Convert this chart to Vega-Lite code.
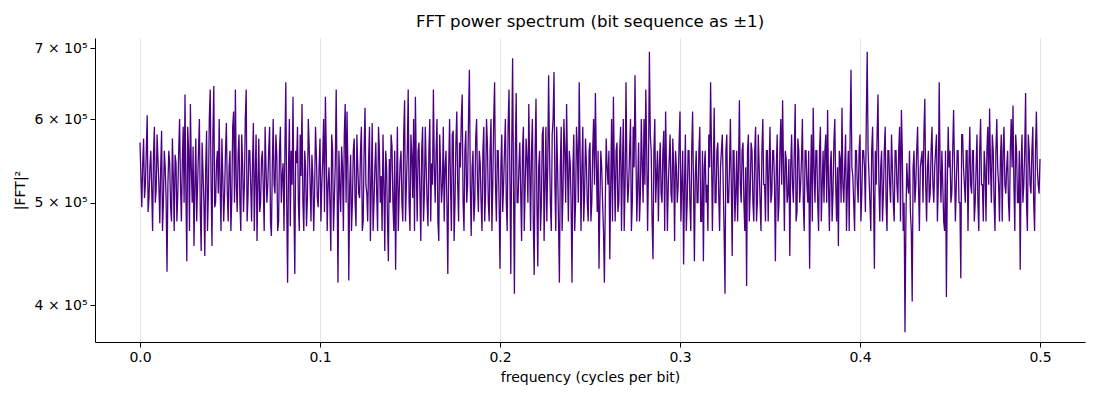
{
  "$schema": "https://vega.github.io/schema/vega-lite/v6.json",
  "width": 990,
  "height": 304,
  "autosize": {"type": "none"},
  "padding": {"left": 95, "top": 38, "right": 15, "bottom": 58},
  "title": {"text": "FFT power spectrum (bit sequence as ±1)", "fontSize": 16.6, "fontWeight": "normal", "color": "#000", "offset": 7},
  "config": {
    "font": "DejaVu Sans",
    "view": {"stroke": null},
    "axis": {"labelFont": "DejaVu Sans", "titleFont": "DejaVu Sans", "labelColor": "#000", "titleColor": "#000", "domainColor": "#000", "tickColor": "#000", "labelFontSize": 14, "titleFontSize": 14, "titleFontWeight": "normal", "tickSize": 5, "labelPadding": 3}
  },
  "data": {"values": [
    {"f":0.000,"p":570000},{"f":0.001,"p":495000},{"f":0.002,"p":575000},{"f":0.003,"p":520000},{"f":0.004,"p":605000},{"f":0.005,"p":505000},{"f":0.006,"p":560000},{"f":0.007,"p":470000},{"f":0.008,"p":590000},{"f":0.009,"p":515000},
    {"f":0.010,"p":548000},{"f":0.011,"p":478000},{"f":0.012,"p":585000},{"f":0.013,"p":500000},{"f":0.014,"p":540000},{"f":0.015,"p":430000},{"f":0.016,"p":560000},{"f":0.017,"p":495000},{"f":0.018,"p":575000},{"f":0.019,"p":470000},
    {"f":0.020,"p":545000},{"f":0.021,"p":510000},{"f":0.022,"p":600000},{"f":0.023,"p":480000},{"f":0.024,"p":590000},{"f":0.025,"p":633000},{"f":0.026,"p":440000},{"f":0.027,"p":560000},{"f":0.028,"p":620000},{"f":0.029,"p":500000},
    {"f":0.030,"p":455000},{"f":0.031,"p":575000},{"f":0.032,"p":520000},{"f":0.033,"p":600000},{"f":0.034,"p":450000},{"f":0.035,"p":535000},{"f":0.036,"p":445000},{"f":0.037,"p":585000},{"f":0.038,"p":510000},{"f":0.039,"p":640000},
    {"f":0.040,"p":455000},{"f":0.041,"p":645000},{"f":0.042,"p":500000},{"f":0.043,"p":560000},{"f":0.044,"p":600000},{"f":0.045,"p":470000},{"f":0.046,"p":530000},{"f":0.047,"p":510000},{"f":0.048,"p":595000},{"f":0.049,"p":480000},
    {"f":0.050,"p":560000},{"f":0.051,"p":505000},{"f":0.052,"p":610000},{"f":0.053,"p":640000},{"f":0.054,"p":490000},{"f":0.055,"p":580000},{"f":0.056,"p":470000},{"f":0.057,"p":545000},{"f":0.058,"p":520000},{"f":0.059,"p":640000},
    {"f":0.060,"p":505000},{"f":0.061,"p":560000},{"f":0.062,"p":480000},{"f":0.063,"p":595000},{"f":0.064,"p":530000},{"f":0.065,"p":460000},{"f":0.066,"p":575000},{"f":0.067,"p":500000},{"f":0.068,"p":560000},{"f":0.069,"p":470000},
    {"f":0.070,"p":540000},{"f":0.071,"p":520000},{"f":0.072,"p":590000},{"f":0.073,"p":465000},{"f":0.074,"p":600000},{"f":0.075,"p":510000},{"f":0.076,"p":555000},{"f":0.077,"p":480000},{"f":0.078,"p":590000},{"f":0.079,"p":530000},
    {"f":0.080,"p":470000},{"f":0.081,"p":650000},{"f":0.082,"p":420000},{"f":0.083,"p":600000},{"f":0.084,"p":560000},{"f":0.085,"p":630000},{"f":0.086,"p":428000},{"f":0.087,"p":545000},{"f":0.088,"p":500000},{"f":0.089,"p":580000},
    {"f":0.090,"p":620000},{"f":0.091,"p":470000},{"f":0.092,"p":540000},{"f":0.093,"p":505000},{"f":0.094,"p":565000},{"f":0.095,"p":480000},{"f":0.096,"p":530000},{"f":0.097,"p":510000},{"f":0.098,"p":555000},{"f":0.099,"p":495000},
    {"f":0.100,"p":575000},{"f":0.101,"p":520000},{"f":0.102,"p":600000},{"f":0.103,"p":630000},{"f":0.104,"p":470000},{"f":0.105,"p":540000},{"f":0.106,"p":450000},{"f":0.107,"p":560000},{"f":0.108,"p":505000},{"f":0.109,"p":640000},
    {"f":0.110,"p":420000},{"f":0.111,"p":520000},{"f":0.112,"p":565000},{"f":0.113,"p":470000},{"f":0.114,"p":620000},{"f":0.115,"p":610000},{"f":0.116,"p":422000},{"f":0.117,"p":555000},{"f":0.118,"p":500000},{"f":0.119,"p":575000},
    {"f":0.120,"p":475000},{"f":0.121,"p":540000},{"f":0.122,"p":505000},{"f":0.123,"p":590000},{"f":0.124,"p":480000},{"f":0.125,"p":615000},{"f":0.126,"p":510000},{"f":0.127,"p":550000},{"f":0.128,"p":460000},{"f":0.129,"p":595000},
    {"f":0.130,"p":500000},{"f":0.131,"p":570000},{"f":0.132,"p":470000},{"f":0.133,"p":560000},{"f":0.134,"p":530000},{"f":0.135,"p":580000},{"f":0.136,"p":450000},{"f":0.137,"p":540000},{"f":0.138,"p":440000},{"f":0.139,"p":500000},
    {"f":0.140,"p":565000},{"f":0.141,"p":470000},{"f":0.142,"p":432000},{"f":0.143,"p":590000},{"f":0.144,"p":510000},{"f":0.145,"p":560000},{"f":0.146,"p":480000},{"f":0.147,"p":625000},{"f":0.148,"p":520000},{"f":0.149,"p":640000},
    {"f":0.150,"p":470000},{"f":0.151,"p":555000},{"f":0.152,"p":600000},{"f":0.153,"p":630000},{"f":0.154,"p":480000},{"f":0.155,"p":570000},{"f":0.156,"p":460000},{"f":0.157,"p":590000},{"f":0.158,"p":510000},{"f":0.159,"p":540000},
    {"f":0.160,"p":475000},{"f":0.161,"p":600000},{"f":0.162,"p":545000},{"f":0.163,"p":640000},{"f":0.164,"p":500000},{"f":0.165,"p":600000},{"f":0.166,"p":460000},{"f":0.167,"p":540000},{"f":0.168,"p":520000},{"f":0.169,"p":480000},
    {"f":0.170,"p":560000},{"f":0.171,"p":428000},{"f":0.172,"p":600000},{"f":0.173,"p":470000},{"f":0.174,"p":585000},{"f":0.175,"p":500000},{"f":0.176,"p":610000},{"f":0.177,"p":480000},{"f":0.178,"p":540000},{"f":0.179,"p":633000},
    {"f":0.180,"p":470000},{"f":0.181,"p":585000},{"f":0.182,"p":520000},{"f":0.183,"p":668000},{"f":0.184,"p":465000},{"f":0.185,"p":560000},{"f":0.186,"p":500000},{"f":0.187,"p":600000},{"f":0.188,"p":490000},{"f":0.189,"p":545000},
    {"f":0.190,"p":470000},{"f":0.191,"p":590000},{"f":0.192,"p":510000},{"f":0.193,"p":570000},{"f":0.194,"p":480000},{"f":0.195,"p":600000},{"f":0.196,"p":520000},{"f":0.197,"p":650000},{"f":0.198,"p":480000},{"f":0.199,"p":560000},
    {"f":0.200,"p":433000},{"f":0.201,"p":580000},{"f":0.202,"p":520000},{"f":0.203,"p":600000},{"f":0.204,"p":470000},{"f":0.205,"p":640000},{"f":0.206,"p":428000},{"f":0.207,"p":685000},{"f":0.208,"p":410000},{"f":0.209,"p":635000},
    {"f":0.210,"p":500000},{"f":0.211,"p":570000},{"f":0.212,"p":460000},{"f":0.213,"p":590000},{"f":0.214,"p":520000},{"f":0.215,"p":550000},{"f":0.216,"p":620000},{"f":0.217,"p":470000},{"f":0.218,"p":600000},{"f":0.219,"p":427000},
    {"f":0.220,"p":627000},{"f":0.221,"p":435000},{"f":0.222,"p":560000},{"f":0.223,"p":500000},{"f":0.224,"p":590000},{"f":0.225,"p":520000},{"f":0.226,"p":480000},{"f":0.227,"p":660000},{"f":0.228,"p":500000},{"f":0.229,"p":580000},
    {"f":0.230,"p":665000},{"f":0.231,"p":470000},{"f":0.232,"p":540000},{"f":0.233,"p":420000},{"f":0.234,"p":590000},{"f":0.235,"p":510000},{"f":0.236,"p":560000},{"f":0.237,"p":620000},{"f":0.238,"p":480000},{"f":0.239,"p":545000},
    {"f":0.240,"p":420000},{"f":0.241,"p":580000},{"f":0.242,"p":500000},{"f":0.243,"p":560000},{"f":0.244,"p":650000},{"f":0.245,"p":470000},{"f":0.246,"p":590000},{"f":0.247,"p":510000},{"f":0.248,"p":545000},{"f":0.249,"p":480000},
    {"f":0.250,"p":570000},{"f":0.251,"p":500000},{"f":0.252,"p":600000},{"f":0.253,"p":635000},{"f":0.254,"p":490000},{"f":0.255,"p":433000},{"f":0.256,"p":560000},{"f":0.257,"p":500000},{"f":0.258,"p":420000},{"f":0.259,"p":575000},
    {"f":0.260,"p":520000},{"f":0.261,"p":442000},{"f":0.262,"p":600000},{"f":0.263,"p":630000},{"f":0.264,"p":480000},{"f":0.265,"p":570000},{"f":0.266,"p":500000},{"f":0.267,"p":590000},{"f":0.268,"p":540000},{"f":0.269,"p":470000},
    {"f":0.270,"p":650000},{"f":0.271,"p":500000},{"f":0.272,"p":560000},{"f":0.273,"p":470000},{"f":0.274,"p":590000},{"f":0.275,"p":660000},{"f":0.276,"p":480000},{"f":0.277,"p":570000},{"f":0.278,"p":510000},{"f":0.279,"p":545000},
    {"f":0.280,"p":600000},{"f":0.281,"p":640000},{"f":0.282,"p":470000},{"f":0.283,"p":695000},{"f":0.284,"p":560000},{"f":0.285,"p":442000},{"f":0.286,"p":600000},{"f":0.287,"p":530000},{"f":0.288,"p":480000},{"f":0.289,"p":570000},
    {"f":0.290,"p":500000},{"f":0.291,"p":585000},{"f":0.292,"p":610000},{"f":0.293,"p":470000},{"f":0.294,"p":550000},{"f":0.295,"p":510000},{"f":0.296,"p":575000},{"f":0.297,"p":460000},{"f":0.298,"p":540000},{"f":0.299,"p":520000},
    {"f":0.300,"p":610000},{"f":0.301,"p":520000},{"f":0.302,"p":437000},{"f":0.303,"p":580000},{"f":0.304,"p":500000},{"f":0.305,"p":560000},{"f":0.306,"p":470000},{"f":0.307,"p":610000},{"f":0.308,"p":440000},{"f":0.309,"p":560000},
    {"f":0.310,"p":500000},{"f":0.311,"p":590000},{"f":0.312,"p":480000},{"f":0.313,"p":440000},{"f":0.314,"p":560000},{"f":0.315,"p":520000},{"f":0.316,"p":580000},{"f":0.317,"p":650000},{"f":0.318,"p":470000},{"f":0.319,"p":615000},
    {"f":0.320,"p":500000},{"f":0.321,"p":570000},{"f":0.322,"p":470000},{"f":0.323,"p":560000},{"f":0.324,"p":520000},{"f":0.325,"p":410000},{"f":0.326,"p":580000},{"f":0.327,"p":500000},{"f":0.328,"p":600000},{"f":0.329,"p":445000},
    {"f":0.330,"p":560000},{"f":0.331,"p":510000},{"f":0.332,"p":480000},{"f":0.333,"p":625000},{"f":0.334,"p":500000},{"f":0.335,"p":570000},{"f":0.336,"p":470000},{"f":0.337,"p":417000},{"f":0.338,"p":580000},{"f":0.339,"p":510000},
    {"f":0.340,"p":560000},{"f":0.341,"p":480000},{"f":0.342,"p":590000},{"f":0.343,"p":500000},{"f":0.344,"p":540000},{"f":0.345,"p":470000},{"f":0.346,"p":600000},{"f":0.347,"p":520000},{"f":0.348,"p":560000},{"f":0.349,"p":480000},
    {"f":0.350,"p":590000},{"f":0.351,"p":510000},{"f":0.352,"p":560000},{"f":0.353,"p":440000},{"f":0.354,"p":580000},{"f":0.355,"p":500000},{"f":0.356,"p":600000},{"f":0.357,"p":625000},{"f":0.358,"p":470000},{"f":0.359,"p":550000},
    {"f":0.360,"p":510000},{"f":0.361,"p":445000},{"f":0.362,"p":580000},{"f":0.363,"p":500000},{"f":0.364,"p":620000},{"f":0.365,"p":490000},{"f":0.366,"p":560000},{"f":0.367,"p":520000},{"f":0.368,"p":600000},{"f":0.369,"p":470000},
    {"f":0.370,"p":560000},{"f":0.371,"p":500000},{"f":0.372,"p":433000},{"f":0.373,"p":580000},{"f":0.374,"p":615000},{"f":0.375,"p":500000},{"f":0.376,"p":560000},{"f":0.377,"p":470000},{"f":0.378,"p":590000},{"f":0.379,"p":520000},
    {"f":0.380,"p":500000},{"f":0.381,"p":580000},{"f":0.382,"p":612000},{"f":0.383,"p":470000},{"f":0.384,"p":560000},{"f":0.385,"p":510000},{"f":0.386,"p":600000},{"f":0.387,"p":480000},{"f":0.388,"p":455000},{"f":0.389,"p":550000},
    {"f":0.390,"p":615000},{"f":0.391,"p":500000},{"f":0.392,"p":580000},{"f":0.393,"p":520000},{"f":0.394,"p":470000},{"f":0.395,"p":668000},{"f":0.396,"p":530000},{"f":0.397,"p":470000},{"f":0.398,"p":560000},{"f":0.399,"p":500000},
    {"f":0.400,"p":580000},{"f":0.401,"p":510000},{"f":0.402,"p":560000},{"f":0.403,"p":490000},{"f":0.404,"p":695000},{"f":0.405,"p":530000},{"f":0.406,"p":470000},{"f":0.407,"p":590000},{"f":0.408,"p":433000},{"f":0.409,"p":520000},
    {"f":0.410,"p":633000},{"f":0.411,"p":480000},{"f":0.412,"p":560000},{"f":0.413,"p":510000},{"f":0.414,"p":590000},{"f":0.415,"p":470000},{"f":0.416,"p":560000},{"f":0.417,"p":500000},{"f":0.418,"p":540000},{"f":0.419,"p":480000},
    {"f":0.420,"p":560000},{"f":0.421,"p":500000},{"f":0.422,"p":590000},{"f":0.423,"p":612000},{"f":0.424,"p":470000},{"f":0.425,"p":377000},{"f":0.426,"p":545000},{"f":0.427,"p":510000},{"f":0.428,"p":490000},{"f":0.429,"p":403000},
    {"f":0.430,"p":560000},{"f":0.431,"p":520000},{"f":0.432,"p":590000},{"f":0.433,"p":470000},{"f":0.434,"p":550000},{"f":0.435,"p":500000},{"f":0.436,"p":627000},{"f":0.437,"p":480000},{"f":0.438,"p":560000},{"f":0.439,"p":510000},
    {"f":0.440,"p":590000},{"f":0.441,"p":500000},{"f":0.442,"p":560000},{"f":0.443,"p":480000},{"f":0.444,"p":650000},{"f":0.445,"p":500000},{"f":0.446,"p":520000},{"f":0.447,"p":470000},{"f":0.448,"p":407000},{"f":0.449,"p":590000},
    {"f":0.450,"p":560000},{"f":0.451,"p":510000},{"f":0.452,"p":612000},{"f":0.453,"p":480000},{"f":0.454,"p":560000},{"f":0.455,"p":500000},{"f":0.456,"p":424000},{"f":0.457,"p":580000},{"f":0.458,"p":520000},{"f":0.459,"p":560000},
    {"f":0.460,"p":470000},{"f":0.461,"p":590000},{"f":0.462,"p":510000},{"f":0.463,"p":560000},{"f":0.464,"p":500000},{"f":0.465,"p":580000},{"f":0.466,"p":470000},{"f":0.467,"p":600000},{"f":0.468,"p":520000},{"f":0.469,"p":560000},
    {"f":0.470,"p":480000},{"f":0.471,"p":590000},{"f":0.472,"p":614000},{"f":0.473,"p":500000},{"f":0.474,"p":560000},{"f":0.475,"p":470000},{"f":0.476,"p":600000},{"f":0.477,"p":520000},{"f":0.478,"p":550000},{"f":0.479,"p":480000},
    {"f":0.480,"p":590000},{"f":0.481,"p":510000},{"f":0.482,"p":560000},{"f":0.483,"p":480000},{"f":0.484,"p":600000},{"f":0.485,"p":618000},{"f":0.486,"p":470000},{"f":0.487,"p":560000},{"f":0.488,"p":500000},{"f":0.489,"p":432000},
    {"f":0.490,"p":580000},{"f":0.491,"p":520000},{"f":0.492,"p":635000},{"f":0.493,"p":470000},{"f":0.494,"p":560000},{"f":0.495,"p":510000},{"f":0.496,"p":590000},{"f":0.497,"p":470000},{"f":0.498,"p":610000},{"f":0.499,"p":520000},
    {"f":0.500,"p":550000},
    {"f":0.0005,"p":530000},{"f":0.0015,"p":545000},{"f":0.0025,"p":505000},{"f":0.0035,"p":560000},{"f":0.0045,"p":490000},{"f":0.0055,"p":540000},{"f":0.0065,"p":515000},{"f":0.0075,"p":555000},{"f":0.0085,"p":500000},{"f":0.0095,"p":580000},
    {"f":0.0105,"p":520000},{"f":0.0115,"p":540000},{"f":0.0125,"p":470000},{"f":0.0135,"p":560000},{"f":0.0145,"p":505000},{"f":0.0155,"p":520000},{"f":0.0165,"p":545000},{"f":0.0175,"p":480000},{"f":0.0185,"p":530000},{"f":0.0195,"p":555000},
    {"f":0.0205,"p":480000},{"f":0.0215,"p":560000},{"f":0.0225,"p":520000},{"f":0.0235,"p":545000},{"f":0.0245,"p":500000},{"f":0.0255,"p":510000},{"f":0.0265,"p":590000},{"f":0.0275,"p":470000},{"f":0.0285,"p":540000},{"f":0.0295,"p":565000},
    {"f":0.0305,"p":520000},{"f":0.0315,"p":480000},{"f":0.0325,"p":560000},{"f":0.0335,"p":490000},{"f":0.0345,"p":570000},{"f":0.0355,"p":500000},{"f":0.0365,"p":540000},{"f":0.0375,"p":470000},{"f":0.0385,"p":600000},{"f":0.0395,"p":520000},
    {"f":0.0405,"p":580000},{"f":0.0415,"p":495000},{"f":0.0425,"p":545000},{"f":0.0435,"p":510000},{"f":0.0445,"p":520000},{"f":0.0455,"p":575000},{"f":0.0465,"p":480000},{"f":0.0475,"p":560000},{"f":0.0485,"p":510000},{"f":0.0495,"p":540000},
    {"f":0.0505,"p":470000},{"f":0.0515,"p":590000},{"f":0.0525,"p":500000},{"f":0.0535,"p":520000},{"f":0.0545,"p":555000},{"f":0.0555,"p":500000},{"f":0.0565,"p":580000},{"f":0.0575,"p":490000},{"f":0.0585,"p":600000},{"f":0.0595,"p":480000},
    {"f":0.0605,"p":560000},{"f":0.0615,"p":520000},{"f":0.0625,"p":545000},{"f":0.0635,"p":470000},{"f":0.0645,"p":580000},{"f":0.0655,"p":520000},{"f":0.0665,"p":490000},{"f":0.0675,"p":550000},{"f":0.0685,"p":515000},{"f":0.0695,"p":590000},
    {"f":0.0705,"p":500000},{"f":0.0715,"p":560000},{"f":0.0725,"p":480000},{"f":0.0735,"p":540000},{"f":0.0745,"p":520000},{"f":0.0755,"p":580000},{"f":0.0765,"p":470000},{"f":0.0775,"p":560000},{"f":0.0785,"p":500000},{"f":0.0795,"p":545000},
    {"f":0.0805,"p":560000},{"f":0.0815,"p":500000},{"f":0.0825,"p":540000},{"f":0.0835,"p":475000},{"f":0.0845,"p":520000},{"f":0.0855,"p":500000},{"f":0.0865,"p":560000},{"f":0.0875,"p":590000},{"f":0.0885,"p":470000},{"f":0.0895,"p":530000},
    {"f":0.0905,"p":500000},{"f":0.0915,"p":560000},{"f":0.0925,"p":475000},{"f":0.0935,"p":600000},{"f":0.0945,"p":520000},{"f":0.0955,"p":555000},{"f":0.0965,"p":470000},{"f":0.0975,"p":590000},{"f":0.0985,"p":505000},{"f":0.0995,"p":540000},
    {"f":0.1005,"p":480000},{"f":0.1015,"p":550000},{"f":0.1025,"p":490000},{"f":0.1035,"p":560000},{"f":0.1045,"p":520000},{"f":0.1055,"p":500000},{"f":0.1065,"p":580000},{"f":0.1075,"p":470000},{"f":0.1085,"p":545000},{"f":0.1095,"p":520000},
    {"f":0.1105,"p":560000},{"f":0.1115,"p":490000},{"f":0.1125,"p":540000},{"f":0.1135,"p":580000},{"f":0.1145,"p":500000},{"f":0.1155,"p":540000},{"f":0.1165,"p":520000},{"f":0.1175,"p":470000},{"f":0.1185,"p":560000},{"f":0.1195,"p":500000},
    {"f":0.1205,"p":580000},{"f":0.1215,"p":510000},{"f":0.1225,"p":560000},{"f":0.1235,"p":470000},{"f":0.1245,"p":560000},{"f":0.1255,"p":520000},{"f":0.1265,"p":480000},{"f":0.1275,"p":590000},{"f":0.1285,"p":520000},{"f":0.1295,"p":470000},
    {"f":0.1305,"p":540000},{"f":0.1315,"p":510000},{"f":0.1325,"p":590000},{"f":0.1335,"p":500000},{"f":0.1345,"p":470000},{"f":0.1355,"p":520000},{"f":0.1365,"p":560000},{"f":0.1375,"p":480000},{"f":0.1385,"p":550000},{"f":0.1395,"p":580000},
    {"f":0.1405,"p":500000},{"f":0.1415,"p":560000},{"f":0.1425,"p":520000},{"f":0.1435,"p":470000},{"f":0.1445,"p":545000},{"f":0.1455,"p":500000},{"f":0.1465,"p":580000},{"f":0.1475,"p":480000},{"f":0.1485,"p":560000},{"f":0.1495,"p":500000},
    {"f":0.1505,"p":580000},{"f":0.1515,"p":505000},{"f":0.1525,"p":470000},{"f":0.1535,"p":540000},{"f":0.1545,"p":560000},{"f":0.1555,"p":510000},{"f":0.1565,"p":560000},{"f":0.1575,"p":480000},{"f":0.1585,"p":590000},{"f":0.1595,"p":500000},
    {"f":0.1605,"p":560000},{"f":0.1615,"p":480000},{"f":0.1625,"p":520000},{"f":0.1635,"p":540000},{"f":0.1645,"p":560000},{"f":0.1655,"p":480000},{"f":0.1665,"p":580000},{"f":0.1675,"p":500000},{"f":0.1685,"p":590000},{"f":0.1695,"p":540000},
    {"f":0.1705,"p":500000},{"f":0.1715,"p":540000},{"f":0.1725,"p":520000},{"f":0.1735,"p":580000},{"f":0.1745,"p":460000},{"f":0.1755,"p":570000},{"f":0.1765,"p":520000},{"f":0.1775,"p":570000},{"f":0.1785,"p":600000},{"f":0.1795,"p":500000},
    {"f":0.1805,"p":560000},{"f":0.1815,"p":500000},{"f":0.1825,"p":600000},{"f":0.1835,"p":520000},{"f":0.1845,"p":540000},{"f":0.1855,"p":480000},{"f":0.1865,"p":575000},{"f":0.1875,"p":520000},{"f":0.1885,"p":560000},{"f":0.1895,"p":500000},
    {"f":0.1905,"p":560000},{"f":0.1915,"p":480000},{"f":0.1925,"p":600000},{"f":0.1935,"p":500000},{"f":0.1945,"p":560000},{"f":0.1955,"p":470000},{"f":0.1965,"p":600000},{"f":0.1975,"p":520000},{"f":0.1985,"p":560000},{"f":0.1995,"p":500000},
    {"f":0.2005,"p":540000},{"f":0.2015,"p":490000},{"f":0.2025,"p":560000},{"f":0.2035,"p":500000},{"f":0.2045,"p":590000},{"f":0.2055,"p":530000},{"f":0.2065,"p":560000},{"f":0.2075,"p":520000},{"f":0.2085,"p":560000},{"f":0.2095,"p":500000},
    {"f":0.2105,"p":540000},{"f":0.2115,"p":510000},{"f":0.2125,"p":560000},{"f":0.2135,"p":470000},{"f":0.2145,"p":575000},{"f":0.2155,"p":500000},{"f":0.2165,"p":540000},{"f":0.2175,"p":560000},{"f":0.2185,"p":480000},{"f":0.2195,"p":560000},
    {"f":0.2205,"p":500000},{"f":0.2215,"p":540000},{"f":0.2225,"p":470000},{"f":0.2235,"p":580000},{"f":0.2245,"p":460000},{"f":0.2255,"p":590000},{"f":0.2265,"p":540000},{"f":0.2275,"p":560000},{"f":0.2285,"p":470000},{"f":0.2295,"p":600000},
    {"f":0.2305,"p":520000},{"f":0.2315,"p":590000},{"f":0.2325,"p":480000},{"f":0.2335,"p":540000},{"f":0.2345,"p":470000},{"f":0.2355,"p":600000},{"f":0.2365,"p":500000},{"f":0.2375,"p":540000},{"f":0.2385,"p":560000},{"f":0.2395,"p":500000},
    {"f":0.2405,"p":540000},{"f":0.2415,"p":470000},{"f":0.2425,"p":590000},{"f":0.2435,"p":500000},{"f":0.2445,"p":560000},{"f":0.2455,"p":540000},{"f":0.2465,"p":480000},{"f":0.2475,"p":575000},{"f":0.2485,"p":500000},{"f":0.2495,"p":560000},
    {"f":0.2505,"p":480000},{"f":0.2515,"p":560000},{"f":0.2525,"p":520000},{"f":0.2535,"p":550000},{"f":0.2545,"p":560000},{"f":0.2555,"p":500000},{"f":0.2565,"p":540000},{"f":0.2575,"p":470000},{"f":0.2585,"p":500000},{"f":0.2595,"p":540000},
    {"f":0.2605,"p":560000},{"f":0.2615,"p":520000},{"f":0.2625,"p":480000},{"f":0.2635,"p":540000},{"f":0.2645,"p":560000},{"f":0.2655,"p":490000},{"f":0.2665,"p":560000},{"f":0.2675,"p":470000},{"f":0.2685,"p":600000},{"f":0.2695,"p":520000},
    {"f":0.2705,"p":540000},{"f":0.2715,"p":520000},{"f":0.2725,"p":600000},{"f":0.2735,"p":500000},{"f":0.2745,"p":540000},{"f":0.2755,"p":560000},{"f":0.2765,"p":520000},{"f":0.2775,"p":480000},{"f":0.2785,"p":600000},{"f":0.2795,"p":500000},
    {"f":0.2805,"p":520000},{"f":0.2815,"p":560000},{"f":0.2825,"p":540000},{"f":0.2835,"p":580000},{"f":0.2845,"p":480000},{"f":0.2855,"p":560000},{"f":0.2865,"p":500000},{"f":0.2875,"p":560000},{"f":0.2885,"p":540000},{"f":0.2895,"p":510000},
    {"f":0.2905,"p":560000},{"f":0.2915,"p":470000},{"f":0.2925,"p":540000},{"f":0.2935,"p":520000},{"f":0.2945,"p":580000},{"f":0.2955,"p":500000},{"f":0.2965,"p":540000},{"f":0.2975,"p":560000},{"f":0.2985,"p":500000},{"f":0.2995,"p":570000},
    {"f":0.3005,"p":480000},{"f":0.3015,"p":560000},{"f":0.3025,"p":520000},{"f":0.3035,"p":470000},{"f":0.3045,"p":560000},{"f":0.3055,"p":500000},{"f":0.3065,"p":560000},{"f":0.3075,"p":520000},{"f":0.3085,"p":530000},{"f":0.3095,"p":500000},
    {"f":0.3105,"p":560000},{"f":0.3115,"p":480000},{"f":0.3125,"p":560000},{"f":0.3135,"p":540000},{"f":0.3145,"p":500000},{"f":0.3155,"p":470000},{"f":0.3165,"p":540000},{"f":0.3175,"p":560000},{"f":0.3185,"p":540000},{"f":0.3195,"p":500000},
    {"f":0.3205,"p":560000},{"f":0.3215,"p":510000},{"f":0.3225,"p":540000},{"f":0.3235,"p":580000},{"f":0.3245,"p":470000},{"f":0.3255,"p":560000},{"f":0.3265,"p":500000},{"f":0.3275,"p":540000},{"f":0.3285,"p":520000},{"f":0.3295,"p":560000},
    {"f":0.3305,"p":480000},{"f":0.3315,"p":560000},{"f":0.3325,"p":540000},{"f":0.3335,"p":520000},{"f":0.3345,"p":560000},{"f":0.3355,"p":500000},{"f":0.3365,"p":540000},{"f":0.3375,"p":560000},{"f":0.3385,"p":480000},{"f":0.3395,"p":570000},
    {"f":0.3405,"p":500000},{"f":0.3415,"p":560000},{"f":0.3425,"p":480000},{"f":0.3435,"p":580000},{"f":0.3445,"p":500000},{"f":0.3455,"p":560000},{"f":0.3465,"p":520000},{"f":0.3475,"p":480000},{"f":0.3485,"p":560000},{"f":0.3495,"p":540000},
    {"f":0.3505,"p":500000},{"f":0.3515,"p":560000},{"f":0.3525,"p":520000},{"f":0.3535,"p":540000},{"f":0.3545,"p":480000},{"f":0.3555,"p":560000},{"f":0.3565,"p":520000},{"f":0.3575,"p":540000},{"f":0.3585,"p":560000},{"f":0.3595,"p":500000},
    {"f":0.3605,"p":550000},{"f":0.3615,"p":540000},{"f":0.3625,"p":520000},{"f":0.3635,"p":560000},{"f":0.3645,"p":480000},{"f":0.3655,"p":575000},{"f":0.3665,"p":500000},{"f":0.3675,"p":550000},{"f":0.3685,"p":500000},{"f":0.3695,"p":560000},
    {"f":0.3705,"p":520000},{"f":0.3715,"p":560000},{"f":0.3725,"p":520000},{"f":0.3735,"p":480000},{"f":0.3745,"p":540000},{"f":0.3755,"p":560000},{"f":0.3765,"p":500000},{"f":0.3775,"p":560000},{"f":0.3785,"p":480000},{"f":0.3795,"p":560000},
    {"f":0.3805,"p":560000},{"f":0.3815,"p":500000},{"f":0.3825,"p":520000},{"f":0.3835,"p":540000},{"f":0.3845,"p":480000},{"f":0.3855,"p":570000},{"f":0.3865,"p":520000},{"f":0.3875,"p":540000},{"f":0.3885,"p":560000},{"f":0.3895,"p":500000},
    {"f":0.3905,"p":520000},{"f":0.3915,"p":540000},{"f":0.3925,"p":470000},{"f":0.3935,"p":560000},{"f":0.3945,"p":580000},{"f":0.3955,"p":540000},{"f":0.3965,"p":500000},{"f":0.3975,"p":560000},{"f":0.3985,"p":520000},{"f":0.3995,"p":560000},
    {"f":0.4005,"p":480000},{"f":0.4015,"p":560000},{"f":0.4025,"p":540000},{"f":0.4035,"p":600000},{"f":0.4045,"p":560000},{"f":0.4055,"p":500000},{"f":0.4065,"p":560000},{"f":0.4075,"p":510000},{"f":0.4085,"p":560000},{"f":0.4095,"p":580000},
    {"f":0.4105,"p":520000},{"f":0.4115,"p":540000},{"f":0.4125,"p":480000},{"f":0.4135,"p":560000},{"f":0.4145,"p":500000},{"f":0.4155,"p":560000},{"f":0.4165,"p":520000},{"f":0.4175,"p":580000},{"f":0.4185,"p":500000},{"f":0.4195,"p":560000},
    {"f":0.4205,"p":520000},{"f":0.4215,"p":560000},{"f":0.4225,"p":480000},{"f":0.4235,"p":560000},{"f":0.4245,"p":500000},{"f":0.4255,"p":480000},{"f":0.4265,"p":520000},{"f":0.4275,"p":560000},{"f":0.4285,"p":470000},{"f":0.4295,"p":540000},
    {"f":0.4305,"p":500000},{"f":0.4315,"p":560000},{"f":0.4325,"p":520000},{"f":0.4335,"p":540000},{"f":0.4345,"p":560000},{"f":0.4355,"p":580000},{"f":0.4365,"p":520000},{"f":0.4375,"p":540000},{"f":0.4385,"p":500000},{"f":0.4395,"p":560000},
    {"f":0.4405,"p":520000},{"f":0.4415,"p":540000},{"f":0.4425,"p":580000},{"f":0.4435,"p":520000},{"f":0.4445,"p":540000},{"f":0.4455,"p":560000},{"f":0.4465,"p":480000},{"f":0.4475,"p":560000},{"f":0.4485,"p":520000},{"f":0.4495,"p":540000},
    {"f":0.4505,"p":500000},{"f":0.4515,"p":560000},{"f":0.4525,"p":540000},{"f":0.4535,"p":520000},{"f":0.4545,"p":560000},{"f":0.4555,"p":500000},{"f":0.4565,"p":580000},{"f":0.4575,"p":540000},{"f":0.4585,"p":500000},{"f":0.4595,"p":560000},
    {"f":0.4605,"p":540000},{"f":0.4615,"p":520000},{"f":0.4625,"p":560000},{"f":0.4635,"p":480000},{"f":0.4645,"p":540000},{"f":0.4655,"p":500000},{"f":0.4665,"p":560000},{"f":0.4675,"p":520000},{"f":0.4685,"p":480000},{"f":0.4695,"p":540000},
    {"f":0.4705,"p":560000},{"f":0.4715,"p":520000},{"f":0.4725,"p":540000},{"f":0.4735,"p":580000},{"f":0.4745,"p":500000},{"f":0.4755,"p":560000},{"f":0.4765,"p":540000},{"f":0.4775,"p":480000},{"f":0.4785,"p":580000},{"f":0.4795,"p":560000},
    {"f":0.4805,"p":520000},{"f":0.4815,"p":540000},{"f":0.4825,"p":500000},{"f":0.4835,"p":560000},{"f":0.4845,"p":540000},{"f":0.4855,"p":520000},{"f":0.4865,"p":580000},{"f":0.4875,"p":500000},{"f":0.4885,"p":560000},{"f":0.4895,"p":540000},
    {"f":0.4905,"p":500000},{"f":0.4915,"p":560000},{"f":0.4925,"p":500000},{"f":0.4935,"p":580000},{"f":0.4945,"p":520000},{"f":0.4955,"p":560000},{"f":0.4965,"p":500000},{"f":0.4975,"p":560000},{"f":0.4985,"p":540000},{"f":0.4995,"p":510000}
  ]},
  "mark": {"type": "line", "color": "#4b0082", "strokeWidth": 1.3, "clip": true},
  "encoding": {
    "x": {
      "field": "f",
      "type": "quantitative",
      "title": "frequency (cycles per bit)",
      "scale": {"domain": [-0.025, 0.525], "nice": false, "zero": false},
      "axis": {"values": [0, 0.1, 0.2, 0.3, 0.4, 0.5], "format": ".1f", "grid": true, "gridColor": "#e5e5e5", "gridWidth": 1, "titlePadding": 6}
    },
    "y": {
      "field": "p",
      "type": "quantitative",
      "title": "|FFT|²",
      "scale": {"type": "log", "domain": [369000, 716000], "nice": false},
      "axis": {"values": [400000, 500000, 600000, 700000], "labelExpr": "datum.value / 100000 + ' × 10⁵'", "grid": false, "titlePadding": 7}
    }
  }
}
